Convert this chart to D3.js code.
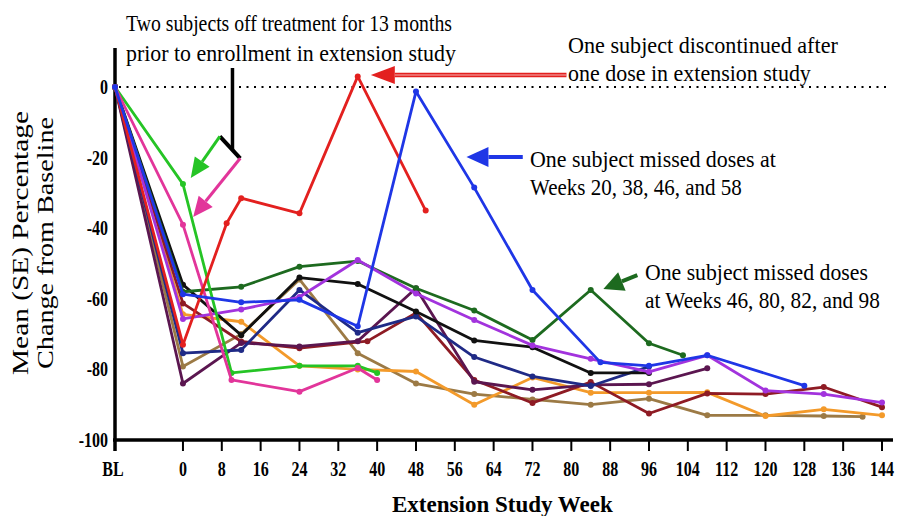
<!DOCTYPE html>
<html lang="en">
<head>
  <meta charset="UTF-8">
  <title>Extension Study Week</title>
  <script src="https://d3js.org/d3.v7.min.js"></script>
  <style>
    body { margin: 0; background: #fff; }
    svg { display: block; }
    text { font-family: "Liberation Serif", "Times New Roman", serif; }
    .tick-label { font-weight: bold; font-size: 20px; }
  </style>
</head>
<body>
  <svg width="898" height="516"></svg>

  <script>
    // x tick labels (BL = baseline, placed left of week 0)
    const xTicks = ["BL", 0, 8, 16, 24, 32, 40, 48, 56, 64, 72, 80, 88, 96, 104, 112, 120, 128, 136, 144];
    const yTicks = [0, -20, -40, -60, -80, -100];

    // one subject per line: weeks and % change from baseline
    const greenWeeks = ["BL", 0, 10, 24, 36, 40];
    const greenValues = [0, -27.5, -81, -79, -79, -81];
    const pinkWeeks = ["BL", 0, 10, 24, 36, 40];
    const pinkValues = [0, -39, -83, -86.3, -79.6, -83];
    const redWeeks = ["BL", 0, 9, 12, 24, 36, 50];
    const redValues = [0, -73, -38.6, -31.5, -35.8, 3, -35];
    const blueWeeks = ["BL", 0, 12, 24, 36, 48, 60, 72, 86, 96, 108, 128];
    const blueValues = [0, -58.7, -61, -60.3, -67.8, -1.3, -28.5, -57.5, -78, -79, -76, -84.6];
    const navyWeeks = ["BL", 0, 12, 24, 36, 48, 60, 72, 84, 96];
    const navyValues = [0, -75.4, -74.5, -57.5, -69.6, -65, -76.5, -82, -84.7, -79.2];
    const darkGreenWeeks = ["BL", 0, 12, 24, 36, 48, 60, 72, 84, 96, 103];
    const darkGreenValues = [0, -58, -56.6, -50.9, -49.3, -57, -63.3, -71.7, -57.5, -72.6, -76];
    const purpleWeeks = ["BL", 0, 12, 24, 36, 48, 60, 72, 84, 96, 108, 120, 132, 144];
    const purpleValues = [0, -65.7, -63, -59.5, -49, -58.5, -66, -73.2, -77, -80.7, -76, -86, -87, -89.4];
    const blackWeeks = ["BL", 0, 12, 24, 36, 48, 60, 72, 84, 96];
    const blackValues = [0, -56, -70.3, -54, -55.8, -63.6, -71.8, -73.7, -81, -81];
    const brownWeeks = ["BL", 0, 12, 24, 36, 48, 60, 72, 84, 96, 108, 120, 132, 140];
    const brownValues = [0, -79.2, -70, -54.5, -75.4, -84, -87, -88.5, -90, -88.3, -93, -93, -93.2, -93.4];
    const orangeWeeks = ["BL", 0, 12, 24, 36, 48, 60, 72, 84, 96, 108, 120, 132, 144];
    const orangeValues = [0, -64.4, -66.5, -79, -80, -80.6, -90, -82.3, -86.6, -86.6, -86.5, -93.2, -91.3, -93];
    const maroonWeeks = ["BL", 0, 12, 24, 38, 48, 60, 72, 84, 96, 108, 120, 132, 144];
    const maroonValues = [0, -61.3, -72.1, -74, -72, -64, -83, -89.5, -83.6, -92.5, -86.8, -87, -85, -90.7];
    const plumWeeks = ["BL", 0, 12, 24, 36, 48, 60, 72, 84, 96, 108];
    const plumValues = [0, -84, -72.5, -73.5, -72, -57, -83.5, -85.8, -84.4, -84.2, -79.7];

    const series = [
      { w: brownWeeks, v: brownValues, color: "#9c7a45" },
      { w: orangeWeeks, v: orangeValues, color: "#f39a2a" },
      { w: maroonWeeks, v: maroonValues, color: "#8e1b24" },
      { w: plumWeeks, v: plumValues, color: "#5b1650" },
      { w: navyWeeks, v: navyValues, color: "#1f2a86" },
      { w: blackWeeks, v: blackValues, color: "#111111" },
      { w: darkGreenWeeks, v: darkGreenValues, color: "#1d6a1f" },
      { w: purpleWeeks, v: purpleValues, color: "#a233dd" },
      { w: greenWeeks, v: greenValues, color: "#25c425" },
      { w: pinkWeeks, v: pinkValues, color: "#e2359a" },
      { w: redWeeks, v: redValues, color: "#e3201f" },
      { w: blueWeeks, v: blueValues, color: "#1f36e6" }
    ];

    const svg = d3.select("svg");
    const BL = -14;
    const x = d3.scaleLinear().domain([BL, 144]).range([115, 882]);
    const y = d3.scaleLinear().domain([-100, 0]).range([440, 87]);
    const xp = w => w === "BL" ? x(BL) : x(w);

    // squeeze a text horizontally to a given width (condensed Times look)
    function squeeze(sel, left, base, width) {
      sel.each(function () {
        const natural = this.getComputedTextLength();
        d3.select(this).attr("transform", `translate(${left},${base}) scale(${width / natural},1)`);
      });
    }

    // zero reference line
    svg.append("line")
      .attr("x1", x(BL) + 4).attr("x2", 886)
      .attr("y1", y(0)).attr("y2", y(0))
      .attr("stroke", "#000").attr("stroke-width", 2)
      .attr("stroke-dasharray", "2,5.5");

    // axes
    svg.append("line").attr("x1", x(BL)).attr("x2", x(BL)).attr("y1", 48).attr("y2", 451)
      .attr("stroke", "#000").attr("stroke-width", 3.5);
    svg.append("line").attr("x1", x(BL) - 2).attr("x2", 893).attr("y1", y(-100)).attr("y2", y(-100))
      .attr("stroke", "#000").attr("stroke-width", 3.5);

    svg.selectAll(".xtick").data(xTicks).enter().append("line")
      .attr("x1", d => xp(d)).attr("x2", d => xp(d))
      .attr("y1", y(-100)).attr("y2", y(-100) + 11)
      .attr("stroke", "#000").attr("stroke-width", 2);

    // condensed bold labels
    svg.selectAll(".xlab").data(xTicks).enter().append("text")
      .attr("class", "tick-label")
      .attr("transform", d => `translate(${xp(d) + (d === "BL" ? -2 : 0)},476) scale(0.8,1)`)
      .attr("text-anchor", "middle")
      .text(d => d);

    svg.selectAll(".ylab").data(yTicks).enter().append("text")
      .attr("class", "tick-label")
      .attr("transform", d => `translate(108,${y(d) + 7}) scale(0.8,1)`)
      .attr("text-anchor", "end")
      .text(d => d);

    svg.append("text")
      .attr("font-weight", "bold").attr("font-size", 23)
      .text("Extension Study Week")
      .call(squeeze, 392, 512, 221);

    const yTitle = svg.append("g").attr("transform", "translate(0,243) rotate(-90)");
    yTitle.append("text").attr("text-anchor", "middle").attr("font-size", 23)
      .text("Mean (SE) Percentage")
      .call(squeeze, 0, 28, 264);
    yTitle.append("text").attr("text-anchor", "middle").attr("font-size", 23)
      .text("Change from Baseline")
      .call(squeeze, 0, 53, 252);

    // subject lines
    const line = d3.line().x(d => xp(d[0])).y(d => y(d[1]));
    series.forEach(s => {
      const pts = s.w.map((w, i) => [w, s.v[i]]);
      svg.append("path").datum(pts)
        .attr("d", line)
        .attr("fill", "none")
        .attr("stroke", s.color)
        .attr("stroke-width", 2.8)
        .attr("stroke-linejoin", "round");
      svg.selectAll(null).data(pts).enter().append("circle")
        .attr("cx", d => xp(d[0])).attr("cy", d => y(d[1]))
        .attr("r", 3).attr("fill", s.color);
    });

    // annotation arrows, in data units [week, value]
    function arrow(from, to, color, width, head, half) {
      const x1 = x(from[0]), y1 = y(from[1]), x2 = x(to[0]), y2 = y(to[1]);
      const a = Math.atan2(y2 - y1, x2 - x1);
      const bx = x2 - head * Math.cos(a), by = y2 - head * Math.sin(a);
      svg.append("line").attr("x1", x1).attr("y1", y1).attr("x2", bx).attr("y2", by)
        .attr("stroke", color).attr("stroke-width", width);
      const px = -Math.sin(a) * half, py = Math.cos(a) * half;
      svg.append("polygon")
        .attr("points", [[x2, y2], [bx + px, by + py], [bx - px, by - py]].map(p => p.join(",")).join(" "))
        .attr("fill", color);
    }

    // black bracket for the two subjects off treatment
    svg.append("line").attr("x1", x(10.2)).attr("x2", x(10.2)).attr("y1", 68).attr("y2", y(-18))
      .attr("stroke", "#000").attr("stroke-width", 3.5);
    svg.append("line").attr("x1", x(7.6)).attr("y1", y(-14)).attr("x2", x(11.8)).attr("y2", y(-20.2))
      .attr("stroke", "#000").attr("stroke-width", 4);
    arrow([7.6, -14], [1.6, -25.8], "#25c425", 3, 20, 9);
    arrow([11.8, -20.2], [2.1, -36.8], "#e2359a", 3, 20, 9);

    arrow([79, 3.4], [38.7, 3.4], "#e3201f", 4.5, 24, 9);
    svg.append("line").attr("x1", x(79)).attr("x2", x(38.7) + 24).attr("y1", y(3.4)).attr("y2", y(3.4))
      .attr("stroke", "#f6b5b5").attr("stroke-width", 1.2);
    arrow([70, -19.8], [58.4, -19.8], "#1f36e6", 4, 22, 10);
    arrow([93.6, -53.3], [86.6, -57.2], "#1d6a1f", 4, 20, 10);

    // annotation text
    const notes = [
      { t: "Two subjects off treatment for 13 months", x: 126, y: 31, len: 326 },
      { t: "prior to enrollment in extension study", x: 126, y: 61, len: 330 },
      { t: "One subject discontinued after", x: 568, y: 53, len: 270 },
      { t: "one dose in extension study", x: 568, y: 81, len: 243 },
      { t: "One subject missed doses at", x: 530, y: 167, len: 246 },
      { t: "Weeks 20, 38, 46, and 58", x: 530, y: 195, len: 212 },
      { t: "One subject missed doses", x: 645, y: 280, len: 223 },
      { t: "at Weeks 46, 80, 82, and 98", x: 645, y: 308, len: 235 }
    ];
    svg.selectAll(".note").data(notes).enter().append("text")
      .attr("font-size", 24)
      .text(d => d.t)
      .each(function (d) { d3.select(this).call(squeeze, d.x, d.y, d.len); });
  </script>
</body>
</html>
